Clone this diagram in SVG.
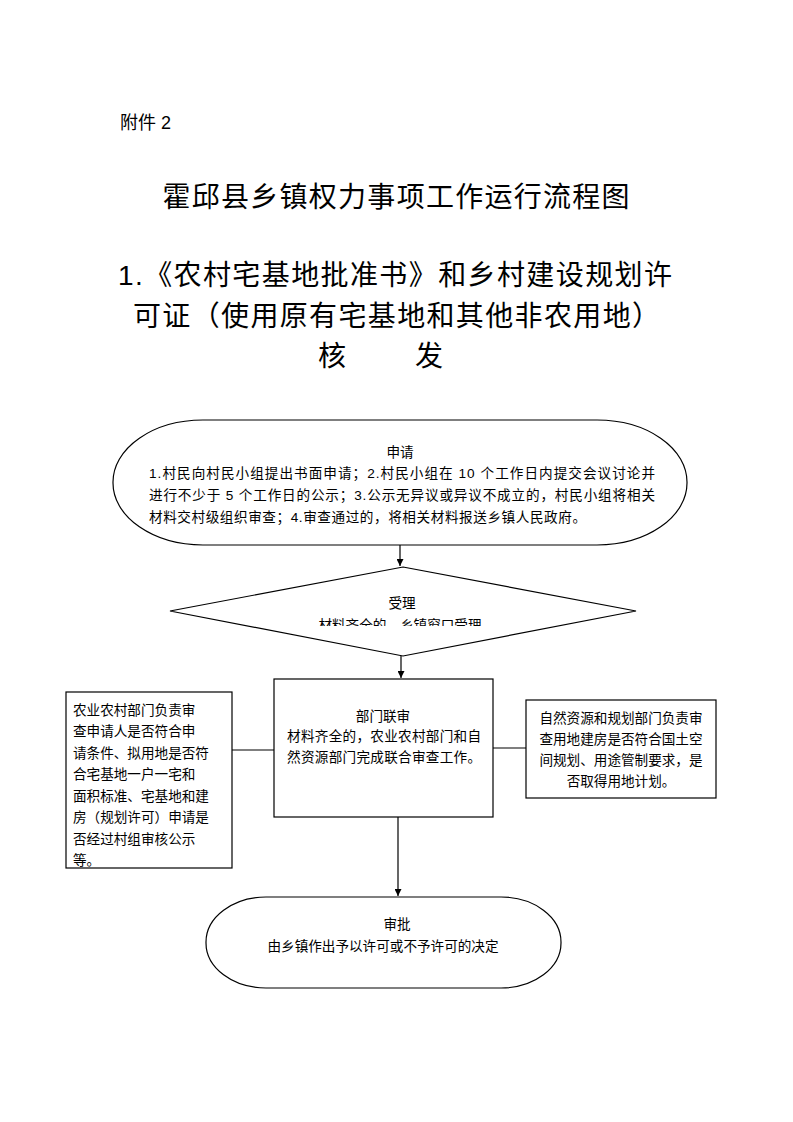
<svg xmlns="http://www.w3.org/2000/svg" width="793" height="1122" viewBox="0 0 793 1122">
<style>
text{font-family:"Liberation Sans","Noto Sans CJK SC",sans-serif;fill:#000}
.s{font-size:13.6px}
.t{font-size:28px}
.shape{fill:#fff;stroke:#000;stroke-width:1.2}
.ln{stroke:#000;stroke-width:1.2;fill:none}
</style>
<defs>
<marker id="ah" viewBox="0 0 10 10" refX="10" refY="5" markerWidth="7" markerHeight="7" orient="auto" markerUnits="userSpaceOnUse"><path d="M0,0 L10,5 L0,10 z" fill="#000"/></marker>
<clipPath id="dc"><rect x="160" y="560" width="480" height="66"/></clipPath>
</defs>
<rect width="793" height="1122" fill="#fff"/>
<text x="120" y="129" style="font-size:18px">附件 2</text>
<text x="396" y="207" text-anchor="middle" class="t" textLength="467">霍邱县乡镇权力事项工作运行流程图</text>
<text x="118" y="285" class="t" textLength="554">1.《农村宅基地批准书》和乡村建设规划许</text>
<text x="133" y="326" class="t" textLength="527">可证（使用原有宅基地和其他非农用地）</text>
<text x="318" y="366" class="t" textLength="125" xml:space="preserve">核　　发</text>

<g id="connectors">
<line class="ln" x1="400" y1="545" x2="400" y2="566" marker-end="url(#ah)"/>
<line class="ln" x1="401" y1="656" x2="401" y2="678" marker-end="url(#ah)"/>
<line class="ln" x1="232" y1="750" x2="274" y2="750"/>
<line class="ln" x1="493" y1="748" x2="526" y2="748"/>
<line class="ln" x1="398" y1="817" x2="398" y2="896" marker-end="url(#ah)"/>
</g>

<g id="n-apply">
<rect class="shape" x="113" y="420" width="574" height="125" rx="90" ry="62"/>
<text x="400" y="457" text-anchor="middle" class="s">申请</text>
<text x="149" y="478" class="s" textLength="506">1.村民向村民小组提出书面申请；2.村民小组在 10 个工作日内提交会议讨论并</text>
<text x="149" y="500" class="s" textLength="506">进行不少于 5 个工作日的公示；3.公示无异议或异议不成立的，村民小组将相关</text>
<text x="149" y="522" class="s" textLength="437">材料交村级组织审查；4.审查通过的，将相关材料报送乡镇人民政府。</text>
</g>

<g id="n-accept">
<polygon class="shape" points="403,567 636,611 403,656 170,611"/>
<text x="402" y="608" text-anchor="middle" class="s">受理</text>
<text x="400" y="630" text-anchor="middle" class="s" clip-path="url(#dc)">材料齐全的，乡镇窗口受理</text>
</g>

<g id="n-review">
<rect class="shape" x="274" y="679" width="219" height="138"/>
<text x="383" y="721" text-anchor="middle" class="s">部门联审</text>
<text x="287" y="741" class="s" textLength="194">材料齐全的，农业农村部门和自</text>
<text x="287" y="762" class="s" textLength="194">然资源部门完成联合审查工作。</text>
</g>

<g id="n-left">
<rect class="shape" x="66" y="692" width="166" height="176"/>
<text x="73" y="715" class="s">农业农村部门负责审</text>
<text x="73" y="736" class="s">查申请人是否符合申</text>
<text x="73" y="758" class="s">请条件、拟用地是否符</text>
<text x="73" y="779" class="s">合宅基地一户一宅和</text>
<text x="73" y="801" class="s">面积标准、宅基地和建</text>
<text x="73" y="822" class="s">房（规划许可）申请是</text>
<text x="73" y="844" class="s">否经过村组审核公示</text>
<text x="73" y="865" class="s">等。</text>
</g>

<g id="n-right">
<rect class="shape" x="526" y="700" width="190" height="98"/>
<text x="621" y="723" text-anchor="middle" class="s">自然资源和规划部门负责审</text>
<text x="621" y="744" text-anchor="middle" class="s">查用地建房是否符合国土空</text>
<text x="621" y="765" text-anchor="middle" class="s">间规划、用途管制要求，是</text>
<text x="621" y="786" text-anchor="middle" class="s">否取得用地计划。</text>
</g>

<g id="n-approve">
<rect class="shape" x="206" y="897" width="355" height="91" rx="60" ry="45"/>
<text x="397" y="929" text-anchor="middle" class="s">审批</text>
<text x="383" y="951" text-anchor="middle" class="s">由乡镇作出予以许可或不予许可的决定</text>
</g>
</svg>
